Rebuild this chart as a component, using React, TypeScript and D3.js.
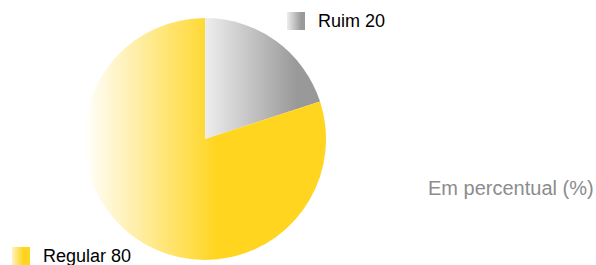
import React from "react";
import * as d3 from "d3";

const categories = ["Ruim", "Regular"];
const values = [20, 80];
const note = "Em percentual (%)";

export default function App() {
  const W = 596, H = 265;
  const cx = 205, cy = 139, r = 121;
  const pie = d3.pie<number>().sort(null).startAngle(0).endAngle(2 * Math.PI);
  const arcs = pie(values);
  const arc = d3.arc<d3.PieArcDatum<number>>().innerRadius(0).outerRadius(r);
  const fills = ["url(#gGrey)", "url(#gYellow)"];
  const legendPos = [
    { x: 287, y: 12, tx: 318, ty: 27 },
    { x: 12, y: 247, tx: 43, ty: 262 },
  ];
  const legendFills = ["url(#lGrey)", "url(#lYellow)"];
  const font = "'Liberation Sans', Arial, sans-serif";
  return (
    <svg width={W} height={H} style={{ position: "absolute", left: 0, top: 0 }}>
      <defs>
        <linearGradient id="gGrey" x1="0" x2="1" y1="0" y2="0">
          <stop offset="0" stopColor="#eeeeee" />
          <stop offset="0.8" stopColor="#999999" />
          <stop offset="1" stopColor="#999999" />
        </linearGradient>
        <linearGradient id="gYellow" x1="0" x2="1" y1="0" y2="0">
          <stop offset="0" stopColor="#ffffff" />
          <stop offset="0.55" stopColor="#ffd520" />
          <stop offset="1" stopColor="#ffd520" />
        </linearGradient>
        <linearGradient id="lGrey" x1="0" x2="1" y1="0" y2="0">
          <stop offset="0" stopColor="#eeeeee" />
          <stop offset="0.8" stopColor="#999999" />
          <stop offset="1" stopColor="#999999" />
        </linearGradient>
        <linearGradient id="lYellow" x1="0" x2="1" y1="0" y2="0">
          <stop offset="0" stopColor="#fff3c0" />
          <stop offset="0.6" stopColor="#ffd520" />
          <stop offset="1" stopColor="#ffd520" />
        </linearGradient>
      </defs>
      <g transform={`translate(${cx},${cy})`}>
        {arcs.map((a, i) => (
          <path key={i} d={arc(a) || ""} fill={fills[i]} />
        ))}
      </g>
      {categories.map((c, i) => (
        <g key={c}>
          <rect x={legendPos[i].x} y={legendPos[i].y} width={18} height={18} fill={legendFills[i]} />
          <text x={legendPos[i].tx} y={legendPos[i].ty} fontFamily={font} fontSize={18} fill="#000">
            {c} {values[i]}
          </text>
        </g>
      ))}
      <text x={428} y={195} fontFamily={font} fontSize={20} fill="#8c8c8c">
        {note}
      </text>
    </svg>
  );
}
